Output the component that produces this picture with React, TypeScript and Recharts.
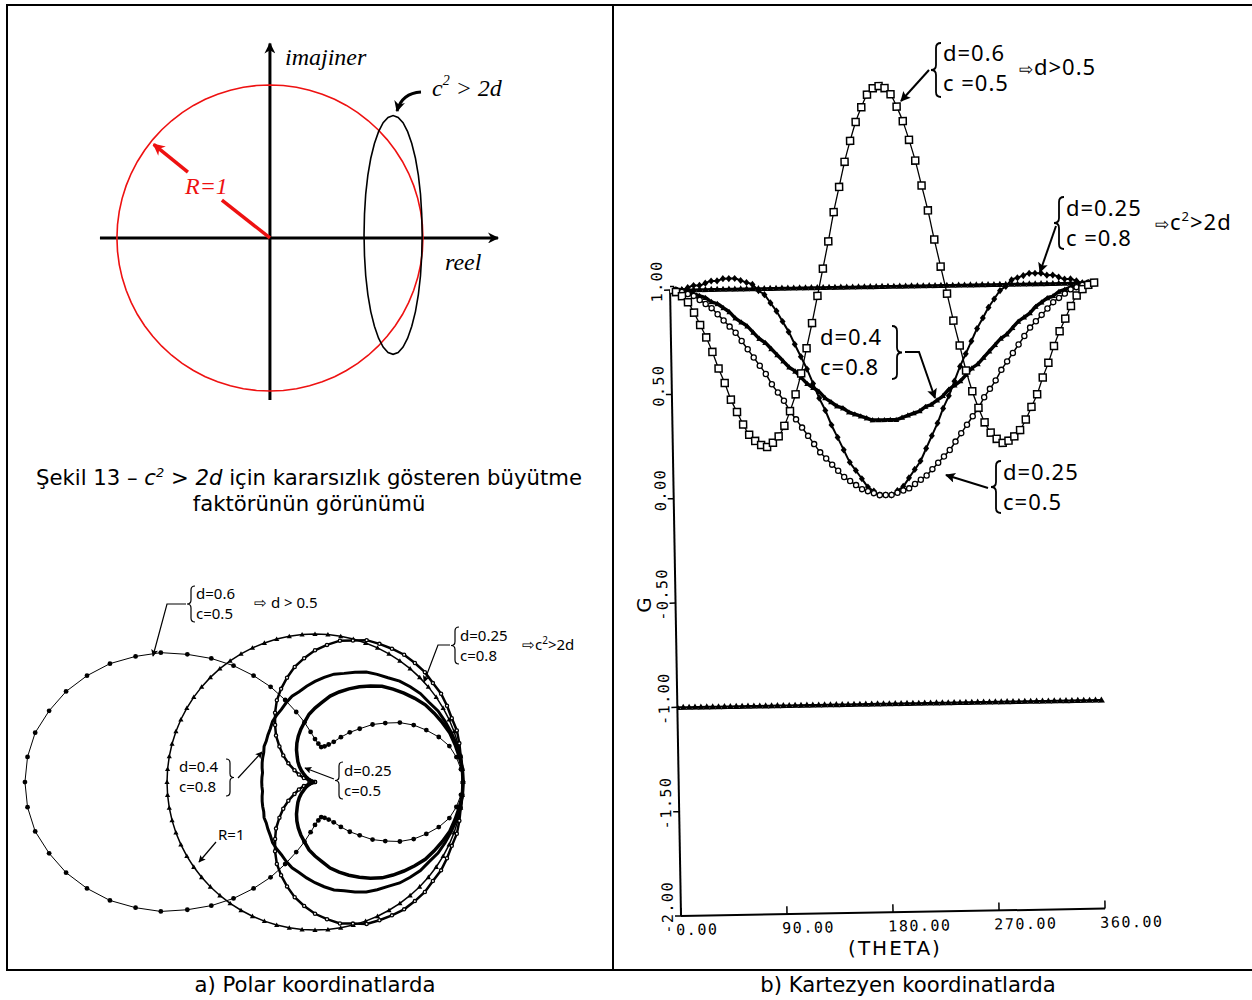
import React from 'react';
import { LineChart, Line, XAxis, YAxis, ReferenceLine, ScatterChart, Scatter } from 'recharts';

// Wave-number angle θ in degrees (5° sampling)
const theta = [
  0, 5, 10, 15, 20, 25, 30, 35, 40, 45, 50, 55, 60, 65, 70, 75, 80, 85, 90,
  95, 100, 105, 110, 115, 120, 125, 130, 135, 140, 145, 150, 155, 160, 165, 170, 175, 180,
  185, 190, 195, 200, 205, 210, 215, 220, 225, 230, 235, 240, 245, 250, 255, 260, 265, 270,
  275, 280, 285, 290, 295, 300, 305, 310, 315, 320, 325, 330, 335, 340, 345, 350, 355, 360,
];

// Amplification factor G for each (d, c) pair
const gD06C05 = [
  1.0, 0.99, 0.97, 0.94, 0.89, 0.83, 0.77, 0.7, 0.62, 0.55, 0.47, 0.41, 0.35, 0.3, 0.27, 0.25, 0.24, 0.26, 0.29,
  0.34, 0.41, 0.49, 0.59, 0.71, 0.83, 0.96, 1.09, 1.22, 1.36, 1.48, 1.6, 1.7, 1.79, 1.86, 1.92, 1.95, 1.96,
  1.95, 1.92, 1.86, 1.79, 1.7, 1.6, 1.48, 1.36, 1.22, 1.09, 0.96, 0.83, 0.71, 0.59, 0.49, 0.41, 0.34, 0.29,
  0.26, 0.24, 0.25, 0.27, 0.3, 0.35, 0.41, 0.47, 0.55, 0.62, 0.7, 0.77, 0.83, 0.89, 0.94, 0.97, 0.99, 1.0,
];
const gD025C08 = [
  1.0, 1.0, 1.0, 1.01, 1.02, 1.02, 1.03, 1.04, 1.04, 1.05, 1.05, 1.05, 1.04, 1.03, 1.02, 0.99, 0.97, 0.93, 0.89,
  0.84, 0.79, 0.73, 0.67, 0.61, 0.54, 0.47, 0.41, 0.34, 0.28, 0.22, 0.16, 0.12, 0.08, 0.04, 0.02, 0.0, 0.0,
  0.0, 0.02, 0.04, 0.08, 0.12, 0.16, 0.22, 0.28, 0.34, 0.41, 0.47, 0.54, 0.61, 0.67, 0.73, 0.79, 0.84, 0.89,
  0.93, 0.97, 0.99, 1.02, 1.03, 1.04, 1.05, 1.05, 1.05, 1.04, 1.04, 1.03, 1.02, 1.02, 1.01, 1.0, 1.0, 1.0,
];
const gD04C08 = [
  1.0, 1.0, 1.0, 0.99, 0.98, 0.97, 0.96, 0.94, 0.93, 0.91, 0.89, 0.86, 0.84, 0.82, 0.79, 0.76, 0.74, 0.71, 0.68,
  0.65, 0.62, 0.6, 0.57, 0.54, 0.52, 0.5, 0.47, 0.45, 0.43, 0.42, 0.4, 0.39, 0.38, 0.37, 0.36, 0.36, 0.36,
  0.36, 0.36, 0.37, 0.38, 0.39, 0.4, 0.42, 0.43, 0.45, 0.47, 0.5, 0.52, 0.54, 0.57, 0.6, 0.62, 0.65, 0.68,
  0.71, 0.74, 0.76, 0.79, 0.82, 0.84, 0.86, 0.89, 0.91, 0.93, 0.94, 0.96, 0.97, 0.98, 0.99, 1.0, 1.0, 1.0,
];
const gD025C05 = [
  1.0, 1.0, 0.99, 0.98, 0.97, 0.95, 0.93, 0.91, 0.88, 0.85, 0.82, 0.79, 0.75, 0.71, 0.67, 0.63, 0.59, 0.54, 0.5,
  0.46, 0.41, 0.37, 0.33, 0.29, 0.25, 0.21, 0.18, 0.15, 0.12, 0.09, 0.07, 0.05, 0.03, 0.02, 0.01, 0.0, 0.0,
  0.0, 0.01, 0.02, 0.03, 0.05, 0.07, 0.09, 0.12, 0.15, 0.18, 0.21, 0.25, 0.29, 0.33, 0.37, 0.41, 0.46, 0.5,
  0.54, 0.59, 0.63, 0.67, 0.71, 0.75, 0.79, 0.82, 0.85, 0.88, 0.91, 0.93, 0.95, 0.97, 0.98, 0.99, 1.0, 1.0,
];
// Stability limit |G| = 1 and its mirror at -1
const gUnit = [
  1, 1, 1, 1, 1, 1, 1, 1, 1, 1, 1, 1, 1, 1, 1, 1, 1, 1, 1,
  1, 1, 1, 1, 1, 1, 1, 1, 1, 1, 1, 1, 1, 1, 1, 1, 1, 1,
  1, 1, 1, 1, 1, 1, 1, 1, 1, 1, 1, 1, 1, 1, 1, 1, 1, 1,
  1, 1, 1, 1, 1, 1, 1, 1, 1, 1, 1, 1, 1, 1, 1, 1, 1, 1,
];
const gNegUnit = [
  -1, -1, -1, -1, -1, -1, -1, -1, -1, -1, -1, -1, -1, -1, -1, -1, -1, -1, -1,
  -1, -1, -1, -1, -1, -1, -1, -1, -1, -1, -1, -1, -1, -1, -1, -1, -1, -1,
  -1, -1, -1, -1, -1, -1, -1, -1, -1, -1, -1, -1, -1, -1, -1, -1, -1, -1,
  -1, -1, -1, -1, -1, -1, -1, -1, -1, -1, -1, -1, -1, -1, -1, -1, -1, -1,
];

// Unstable root locus (c² > 2d) in the complex plane: real and imaginary parts
const locusRe = [
  0.995, 0.992, 0.984, 0.97, 0.951, 0.927, 0.9, 0.87, 0.838, 0.805, 0.772, 0.74, 0.71, 0.683, 0.659, 0.64, 0.626, 0.618, 0.615,
  0.618, 0.626, 0.64, 0.659, 0.683, 0.71, 0.74, 0.772, 0.805, 0.838, 0.87, 0.9, 0.927, 0.951, 0.97, 0.984, 0.992, 0.995,
];
const locusIm = [
  0.02, 0.156, 0.287, 0.41, 0.521, 0.617, 0.695, 0.753, 0.788, 0.8, 0.788, 0.753, 0.695, 0.617, 0.521, 0.41, 0.287, 0.156, 0.02,
  -0.116, -0.247, -0.37, -0.481, -0.577, -0.655, -0.713, -0.748, -0.76, -0.748, -0.713, -0.655, -0.577, -0.481, -0.37, -0.247, -0.116, 0.02,
];

const thetaTicks = [0, 90, 180, 270, 360];
const gTicks = [-2, -1.5, -1, -0.5, 0, 0.5, 1];

// Tables built from the arrays above
const cartesianRows = theta.map((t, i) => ({
  theta: t,
  a: gD06C05[i],
  b: gD025C08[i],
  c: gD04C08[i],
  d: gD025C05[i],
  unit: gUnit[i],
  negUnit: gNegUnit[i],
}));
const toPolar = (g: number[]) =>
  theta.map((t, i) => ({ x: g[i] * Math.cos((t * Math.PI) / 180), y: g[i] * Math.sin((t * Math.PI) / 180) }));
const polarA = toPolar(gD06C05);
const polarB = toPolar(gD025C08);
const polarC = toPolar(gD04C08);
const polarD = toPolar(gD025C05);
const polarUnit = toPolar(gUnit);
const locus = locusRe.map((re, i) => ({ x: re, y: locusIm[i] }));

const MONO = '"DejaVu Sans Mono", monospace';
const SANS = '"DejaVu Sans", sans-serif';
const NOTO = '"Noto Sans", sans-serif';
const SERIF = '"Liberation Serif", serif';

// Marker shapes
const OpenSquare = ({ cx, cy }: any) => (
  <rect x={cx - 3.5} y={cy - 3.5} width={7} height={7} fill="#fff" stroke="#000" strokeWidth={1.5} />
);
const Triangle = ({ cx, cy, s = 3.5 }: any) => (
  <polygon points={`${cx},${cy - s} ${cx + s},${cy + s * 0.75} ${cx - s},${cy + s * 0.75}`} fill="#000" />
);
const Diamond = ({ cx, cy }: any) => (
  <polygon points={`${cx},${cy - 3.6} ${cx + 3},${cy} ${cx},${cy + 3.6} ${cx - 3},${cy}`} fill="#000" />
);
const OpenCircle = ({ cx, cy, r = 2.6 }: any) => <circle cx={cx} cy={cy} r={r} fill="#fff" stroke="#000" strokeWidth={1.3} />;
const Dot = ({ cx, cy, r = 2.4 }: any) => <circle cx={cx} cy={cy} r={r} fill="#000" />;
const NoMark = () => <g />;

const dots = (Shape: any, prefix: string, extra: any = {}) => (p: any) =>
  <Shape key={`${prefix}-${p.index}`} cx={p.cx} cy={p.cy} {...extra} />;

const arrowLine = (marker: string) => (p: any) =>
  <line x1={p.x1} y1={p.y1} x2={p.x2} y2={p.y2} stroke={p.stroke} strokeWidth={p.strokeWidth} markerEnd={marker ? `url(#${marker})` : undefined} />;

const ThetaTick = ({ x, y, payload }: any) => (
  <g>
    <line x1={x} y1={y} x2={x} y2={y - 8} stroke="#000" strokeWidth={1.5} />
    <text x={x - 5} y={y + 19} textAnchor="start" fontFamily={MONO} fontSize={15} letterSpacing={1.5} fill="#000">
      {Number(payload.value).toFixed(2)}
    </text>
  </g>
);
const GTick = ({ x, y, payload }: any) => (
  <g>
    <line x1={x - 6} y1={y} x2={x} y2={y} stroke="#000" strokeWidth={1.5} />
    <text x={x - 8} y={y - 9} transform={`rotate(-90 ${x - 8} ${y - 9})`} textAnchor="middle" fontFamily={MONO} fontSize={15} letterSpacing={1.5} fill="#000">
      {Number(payload.value).toFixed(2)}
    </text>
  </g>
);

const brace = (x: number, y1: number, y2: number, w: number) => {
  const m = (y1 + y2) / 2;
  const k = Math.abs(w);
  return `M ${x + w} ${y1} Q ${x} ${y1} ${x} ${y1 + k} L ${x} ${m - k} Q ${x} ${m} ${x - w} ${m} Q ${x} ${m} ${x} ${m + k} L ${x} ${y2 - k} Q ${x} ${y2} ${x + w} ${y2}`;
};

function CartesianChart() {
  return (
    <div style={{ position: 'absolute', left: 614, top: 6, width: 638, height: 964, transform: 'rotate(-1deg)', transformOrigin: '67px 910px' }}>
      <LineChart width={638} height={964} data={cartesianRows} margin={{ top: 44, right: 88, bottom: 14, left: 17 }}>
        <XAxis type="number" dataKey="theta" domain={[0, 410]} ticks={thetaTicks} interval={0} allowDataOverflow
          axisLine={false} tickLine={false} tickSize={0} tickMargin={0} height={40} tick={(p: any) => <ThetaTick {...p} />} />
        <YAxis type="number" domain={[-2, 2.15]} ticks={gTicks} interval={0} allowDataOverflow
          axisLine={false} tickLine={false} tickSize={0} tickMargin={0} width={50} tick={(p: any) => <GTick {...p} />} />
        <ReferenceLine segment={[{ x: 0, y: -2 }, { x: 360, y: -2 }]} stroke="#000" strokeWidth={2} ifOverflow="visible" />
        <ReferenceLine segment={[{ x: 0, y: -2 }, { x: 0, y: 1 }]} stroke="#000" strokeWidth={2} ifOverflow="visible" />
        <Line dataKey="negUnit" type="linear" stroke="#000" strokeWidth={2} dot={dots(Triangle, 'n')} activeDot={false} isAnimationActive={false} />
        <Line dataKey="unit" type="linear" stroke="#000" strokeWidth={2.5} dot={dots(Triangle, 'u')} activeDot={false} isAnimationActive={false} />
        <Line dataKey="c" type="monotone" stroke="#000" strokeWidth={3.5} dot={dots(Triangle, 'c', { s: 3 })} activeDot={false} isAnimationActive={false} />
        <Line dataKey="b" type="monotone" stroke="#000" strokeWidth={2} dot={dots(Diamond, 'b')} activeDot={false} isAnimationActive={false} />
        <Line dataKey="d" type="monotone" stroke="#000" strokeWidth={1.5} dot={dots(OpenCircle, 'd')} activeDot={false} isAnimationActive={false} />
        <Line dataKey="a" type="monotone" stroke="#000" strokeWidth={1.3} dot={dots(OpenSquare, 'a')} activeDot={false} isAnimationActive={false} />
      </LineChart>
    </div>
  );
}

function PolarChart() {
  return (
    <div style={{ position: 'absolute', left: 14, top: 572 }}>
      <ScatterChart width={598} height={393} margin={{ top: 0, right: 0, bottom: 0, left: 0 }}>
        <XAxis type="number" dataKey="x" domain={[-2.034, 2.007]} hide allowDataOverflow />
        <YAxis type="number" dataKey="y" domain={[-1.236, 1.419]} hide allowDataOverflow />
        <Scatter data={polarUnit} line={{ stroke: '#000', strokeWidth: 1.5 }} lineType="joint" shape={(p: any) => <Triangle cx={p.cx} cy={p.cy} s={2.6} />} isAnimationActive={false} />
        <Scatter data={polarA} line={{ stroke: '#000', strokeWidth: 1 }} lineType="joint" shape={(p: any) => <Dot cx={p.cx} cy={p.cy} />} isAnimationActive={false} />
        <Scatter data={polarB} line={{ stroke: '#000', strokeWidth: 2.5 }} lineType="joint" shape={(p: any) => <OpenCircle cx={p.cx} cy={p.cy} r={1.6} />} isAnimationActive={false} />
        <Scatter data={polarC} line={{ stroke: '#000', strokeWidth: 3 }} lineType="joint" shape={NoMark} isAnimationActive={false} />
        <Scatter data={polarD} line={{ stroke: '#000', strokeWidth: 3.5 }} lineType="joint" shape={NoMark} isAnimationActive={false} />
      </ScatterChart>
    </div>
  );
}

function RootSketch() {
  return (
    <div style={{ position: 'absolute', left: 90, top: 30 }}>
      <ScatterChart width={420} height={380} margin={{ top: 0, right: 0, bottom: 0, left: 0 }}>
        <XAxis type="number" dataKey="x" domain={[-1.176, 1.569]} hide allowDataOverflow />
        <YAxis type="number" dataKey="y" domain={[-1.124, 1.359]} hide allowDataOverflow />
        <Scatter data={polarUnit} line={{ stroke: '#ee1111', strokeWidth: 1.6 }} lineType="joint" shape={NoMark} isAnimationActive={false} />
        <Scatter data={locus} line={{ stroke: '#000', strokeWidth: 1.6 }} lineType="joint" shape={NoMark} isAnimationActive={false} />
        <ReferenceLine segment={[{ x: -1.111, y: 0 }, { x: 1.49, y: 0 }]} stroke="#000" strokeWidth={3} ifOverflow="visible" shape={arrowLine('arrowAxis')} />
        <ReferenceLine segment={[{ x: 0, y: -1.059 }, { x: 0, y: 1.27 }]} stroke="#000" strokeWidth={3} ifOverflow="visible" shape={arrowLine('arrowAxis')} />
        <ReferenceLine segment={[{ x: 0, y: 0 }, { x: -0.314, y: 0.248 }]} stroke="#ee1111" strokeWidth={3.5} ifOverflow="visible" shape={arrowLine('')} />
        <ReferenceLine segment={[{ x: -0.536, y: 0.431 }, { x: -0.76, y: 0.612 }]} stroke="#ee1111" strokeWidth={3.5} ifOverflow="visible" shape={arrowLine('arrowRed')} />
      </ScatterChart>
    </div>
  );
}

function Annotations() {
  const t = { fontFamily: NOTO, fontSize: 22, letterSpacing: 1, fill: '#000' } as any;
  const p = { fontFamily: NOTO, fontSize: 15, fill: '#000' } as any;
  const s = { fontFamily: SERIF, fontSize: 24, fontStyle: 'italic', fill: '#000' } as any;
  return (
    <svg width={1252} height={1000} style={{ position: 'absolute', left: 0, top: 0, pointerEvents: 'none' }}>
      <defs>
        <marker id="arrowAxis" viewBox="0 0 10 10" refX="9" refY="5" markerUnits="userSpaceOnUse" markerWidth="14" markerHeight="11" orient="auto">
          <path d="M0 0 L10 5 L0 10 L3 5 Z" fill="#000" />
        </marker>
        <marker id="arrowRed" viewBox="0 0 10 10" refX="9" refY="5" markerUnits="userSpaceOnUse" markerWidth="14" markerHeight="12" orient="auto">
          <path d="M0 0 L10 5 L0 10 L3 5 Z" fill="#ee1111" />
        </marker>
        <marker id="arrowMed" viewBox="0 0 10 10" refX="9" refY="5" markerUnits="userSpaceOnUse" markerWidth="16" markerHeight="10" orient="auto">
          <path d="M0 0 L10 5 L0 10 L2 5 Z" fill="#000" />
        </marker>
        <marker id="arrowSmall" viewBox="0 0 10 10" refX="9" refY="5" markerUnits="userSpaceOnUse" markerWidth="10" markerHeight="7" orient="auto">
          <path d="M0 0 L10 5 L0 10 L2 5 Z" fill="#000" />
        </marker>
      </defs>

      {/* panel frame */}
      <line x1={7} y1={5} x2={1252} y2={5} stroke="#000" strokeWidth={2} />
      <line x1={7} y1={970} x2={1252} y2={970} stroke="#000" strokeWidth={2} />
      <line x1={7} y1={4} x2={7} y2={971} stroke="#000" strokeWidth={2} />
      <line x1={613} y1={4} x2={613} y2={971} stroke="#000" strokeWidth={2} />

      {/* root locus sketch labels */}
      <text x={285} y={65} {...s}>imajiner</text>
      <text x={445} y={270} {...s}>reel</text>
      <text x={185} y={194} {...s} fill="#ee1111">R=1</text>
      <text x={432} y={96} {...s}>
        c<tspan fontSize={14} dy={-11}>2</tspan><tspan dy={11}> &gt; 2d</tspan>
      </text>
      <path d="M 421 92 Q 402 93 397 111" fill="none" stroke="#000" strokeWidth={3} markerEnd="url(#arrowAxis)" />

      {/* polar plot labels */}
      <path d={brace(191, 586, 622, 4)} fill="none" stroke="#000" strokeWidth={1.2} />
      <text x={196} y={599} {...p}>d=0.6</text>
      <text x={196} y={619} {...p}>c=0.5</text>
      <text x={254} y={608} {...p}>⇨ d &gt; 0.5</text>
      <polyline points="186,604 167,604 153,656" fill="none" stroke="#000" strokeWidth={1.2} markerEnd="url(#arrowSmall)" />

      <path d={brace(455, 627, 664, 4)} fill="none" stroke="#000" strokeWidth={1.2} />
      <text x={460} y={641} {...p}>d=0.25</text>
      <text x={460} y={661} {...p}>c=0.8</text>
      <text x={522} y={650} {...p}>⇨c<tspan fontSize={10} dy={-6}>2</tspan><tspan dy={6}>&gt;2d</tspan></text>
      <polyline points="450,645 438,645 424,682" fill="none" stroke="#000" strokeWidth={1.2} markerEnd="url(#arrowSmall)" />

      <text x={179} y={772} {...p}>d=0.4</text>
      <text x={179} y={792} {...p}>c=0.8</text>
      <path d={brace(230, 759, 796, -4)} fill="none" stroke="#000" strokeWidth={1.2} />
      <line x1={238} y1={778} x2={262} y2={752} stroke="#000" strokeWidth={1.2} markerEnd="url(#arrowSmall)" />

      <path d={brace(339, 762, 799, 4)} fill="none" stroke="#000" strokeWidth={1.2} />
      <text x={344} y={776} {...p}>d=0.25</text>
      <text x={344} y={796} {...p}>c=0.5</text>
      <line x1={334} y1={779} x2={305} y2={768} stroke="#000" strokeWidth={1.2} markerEnd="url(#arrowSmall)" />

      <text x={218} y={840} {...p}>R=1</text>
      <line x1={216} y1={842} x2={199} y2={862} stroke="#000" strokeWidth={1.2} markerEnd="url(#arrowSmall)" />

      {/* cartesian plot labels */}
      <path d={brace(936, 43, 97, 5)} fill="none" stroke="#000" strokeWidth={1.8} />
      <text x={943} y={61} {...t}>d=0.6</text>
      <text x={943} y={91} {...t}>c =0.5</text>
      <text x={1019} y={75} {...t}><tspan fontSize={17}>⇨</tspan>d&gt;0.5</text>
      <line x1={929} y1={70} x2={901} y2={101} stroke="#000" strokeWidth={2} markerEnd="url(#arrowMed)" />

      <path d={brace(1059, 197, 249, 5)} fill="none" stroke="#000" strokeWidth={1.8} />
      <text x={1066} y={216} {...t}>d=0.25</text>
      <text x={1066} y={246} {...t}>c =0.8</text>
      <text x={1155} y={230} {...t}><tspan fontSize={17}>⇨</tspan>c<tspan fontSize={13} dy={-9}>2</tspan><tspan dy={9}>&gt;2d</tspan></text>
      <line x1={1056} y1={226} x2={1040} y2={272} stroke="#000" strokeWidth={2} markerEnd="url(#arrowMed)" />

      <text x={820} y={345} {...t}>d=0.4</text>
      <text x={820} y={375} {...t}>c=0.8</text>
      <path d={brace(897, 326, 379, -5)} fill="none" stroke="#000" strokeWidth={1.8} />
      <polyline points="905,352 919,352 935,398" fill="none" stroke="#000" strokeWidth={2} markerEnd="url(#arrowMed)" />

      <path d={brace(996, 461, 513, 5)} fill="none" stroke="#000" strokeWidth={1.8} />
      <text x={1003} y={480} {...t}>d=0.25</text>
      <text x={1003} y={510} {...t}>c=0.5</text>
      <line x1={988} y1={488} x2={946} y2={475} stroke="#000" strokeWidth={2} markerEnd="url(#arrowMed)" />

      <text x={895} y={955} textAnchor="middle" fontFamily={SANS} fontSize={20} letterSpacing={2} fill="#000">(THETA)</text>
      <text x={651} y={605} textAnchor="middle" transform="rotate(-90 651 605)" fontFamily={SANS} fontSize={20} fill="#000">G</text>
    </svg>
  );
}

export default function App() {
  const caption = { position: 'absolute', fontFamily: SANS, fontSize: 21.2, color: '#000', textAlign: 'center', lineHeight: '26px' } as any;
  return (
    <div style={{ position: 'absolute', left: 0, top: 0, width: 1252, height: 1000, overflow: 'hidden', background: '#fff' }}>
      <RootSketch />
      <PolarChart />
      <CartesianChart />
      <div style={{ ...caption, left: 8, top: 465, width: 602 }}>
        Şekil 13 – <i>c</i><sup style={{ fontSize: 13, lineHeight: 0 }}><i>2</i></sup> &gt; <i>2d</i> için kararsızlık gösteren büyütme<br />
        faktörünün görünümü
      </div>
      <div style={{ ...caption, left: 15, top: 972, width: 600 }}>a) Polar koordinatlarda</div>
      <div style={{ ...caption, left: 708, top: 972, width: 400 }}>b) Kartezyen koordinatlarda</div>
      <Annotations />
    </div>
  );
}
